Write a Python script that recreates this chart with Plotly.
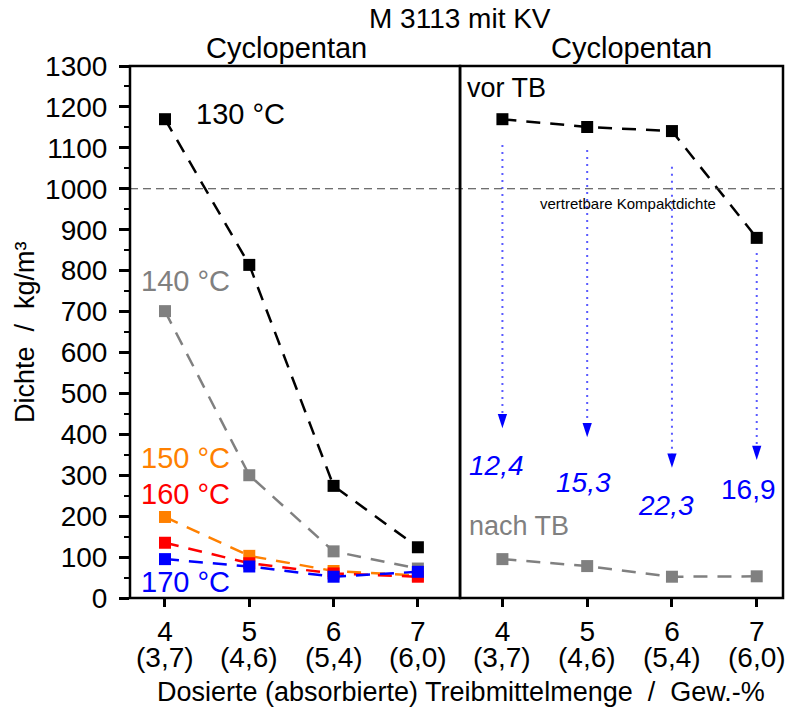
import plotly.graph_objects as go

# ---------------- data ----------------
x_vals = [4, 5, 6, 7]
x_ticktext = ["4", "5", "6", "7"]
x_subtext = ["(3,7)", "(4,6)", "(5,4)", "(6,0)"]

temps = ["130 °C", "140 °C", "150 °C", "160 °C", "170 °C"]
dens_130 = [1170, 814, 274, 124]
dens_140 = [701, 300, 114, 72]
dens_150 = [198, 103, 66, 55]
dens_160 = [135, 85, 60, 52]
dens_170 = [95, 77, 52, 64]

vor_tb = [1170, 1151, 1141, 880]
nach_tb = [95, 78, 52, 53]

arrow_start = [1107, 1095, 1054, 843]
arrow_end = [415, 393, 318, 337]
expansion_labels = ["12,4", "15,3", "22,3", "16,9"]

COMPACT_DENSITY = 1000
y_ticks = list(range(0, 1301, 100))

# ---------------- styles ----------------
colors = ["#000000", "#808080", "#ff8000", "#ff0000", "#0000ff"]
FONT = "Liberation Sans, Arial, sans-serif"
D = 0.5054  # split between panels (paper coords)
DASH = "14px,10px"
PH = 532.0  # plot height px
PW = 653.0  # plot width px
NB = "\u00a0"

fig = go.Figure()

left_series = [dens_130, dens_140, dens_150, dens_160, dens_170]
for name, ys, c in zip(temps, left_series, colors):
    fig.add_trace(go.Scatter(
        x=x_vals, y=ys, mode="lines+markers", name=name,
        line=dict(color=c, width=2.5, dash=DASH),
        marker=dict(symbol="square", size=12, color=c),
        xaxis="x", yaxis="y", showlegend=False))

# blue dotted arrows (right panel)
for xv, s, e in zip(x_vals, arrow_start, arrow_end):
    fig.add_trace(go.Scatter(
        x=[xv, xv], y=[s, e + 30], mode="lines",
        line=dict(color="#5a5aff", width=2, dash="2px,5px"),
        xaxis="x2", yaxis="y", showlegend=False, hoverinfo="skip"))
    fig.add_trace(go.Scatter(
        x=[xv], y=[e], mode="markers",
        marker=dict(symbol="arrow", angle=180, size=15, color="#0000ff",
                    line=dict(width=0)),
        xaxis="x2", yaxis="y", showlegend=False, hoverinfo="skip"))

fig.add_trace(go.Scatter(
    x=x_vals, y=vor_tb, mode="lines+markers", name="vor TB",
    line=dict(color="#000000", width=2.5, dash=DASH),
    marker=dict(symbol="square", size=12, color="#000000"),
    xaxis="x2", yaxis="y", showlegend=False))
fig.add_trace(go.Scatter(
    x=x_vals, y=nach_tb, mode="lines+markers", name="nach TB",
    line=dict(color="#808080", width=2.5, dash=DASH),
    marker=dict(symbol="square", size=12, color="#808080"),
    xaxis="x2", yaxis="y", showlegend=False))

annotations = []


def ann(**kw):
    kw.setdefault("showarrow", False)
    kw.setdefault("xanchor", "center")
    kw.setdefault("yanchor", "middle")
    annotations.append(kw)


# temperature labels
label_pos = [(4.89, 1183), (4.24, 775), (4.24, 342), (4.24, 254), (4.24, 39)]
for t, (lx, ly), c in zip(temps, label_pos, colors):
    ann(x=lx, y=ly, xref="x", yref="y", text=t, font=dict(size=29, color=c, family=FONT))

ann(x=4.05, y=1246, xref="x2", yref="y", text="vor TB",
    font=dict(size=27, color="#000000", family=FONT))
ann(x=4.19, y=176, xref="x2", yref="y", text="nach TB",
    font=dict(size=27, color="#808080", family=FONT))
ann(x=5.476, y=965, xref="x2", yref="y", text="vertretbare Kompaktdichte",
    font=dict(size=15, color="#000000", family=FONT))

lab_pos = [(3.935, 323), (4.96, 283), (5.935, 225), (6.9, 266)]
for i, (txt, (lx, ly)) in enumerate(zip(expansion_labels, lab_pos)):
    t = txt if i == 3 else "<i>" + txt + "</i>"
    ann(x=lx, y=ly, xref="x2", yref="y", text=t, font=dict(size=28, color="#0000ff", family=FONT))

# second line of x tick labels
for xr in ("x", "x2"):
    for xv, st in zip(x_vals, x_subtext):
        ann(x=xv, y=-(657 - 598) / PH, xref=xr, yref="paper", text=st,
            font=dict(size=28, color="#000000", family=FONT))

# titles
ann(x=(460 - 130) / PW, y=(598 - 18) / PH, xref="paper", yref="paper",
    text="M 3113 mit KV", font=dict(size=28, color="#000000", family=FONT))
ann(x=(286 - 130) / PW, y=(598 - 48) / PH, xref="paper", yref="paper",
    text="Cyclopentan", font=dict(size=29, color="#000000", family=FONT))
ann(x=(631 - 130) / PW, y=(598 - 48) / PH, xref="paper", yref="paper",
    text="Cyclopentan", font=dict(size=29, color="#000000", family=FONT))
ann(x=(461 - 130) / PW, y=-(692 - 598) / PH, xref="paper", yref="paper",
    text="Dosierte (absorbierte) Treibmittelmenge" + NB + NB + "/" + NB + NB + "Gew.-%",
    font=dict(size=27, color="#000000", family=FONT))
ann(x=-(130 - 25) / PW, y=(598 - 332) / PH, xref="paper", yref="paper",
    text="Dichte" + NB + NB + "/" + NB + NB + "kg/m³", textangle=-90,
    font=dict(size=27, color="#000000", family=FONT))

shapes = [
    dict(type="line", xref="paper", yref="y", x0=0, x1=1, y0=COMPACT_DENSITY, y1=COMPACT_DENSITY,
         line=dict(color="#404040", width=1.2, dash="8px,5px")),
    dict(type="rect", xref="paper", yref="paper", x0=0, x1=D, y0=0, y1=1,
         line=dict(color="#000000", width=2.5)),
    dict(type="rect", xref="paper", yref="paper", x0=D, x1=1, y0=0, y1=1,
         line=dict(color="#000000", width=2.5)),
]

tick_common = dict(ticks="outside", ticklen=8, tickwidth=2.5, tickcolor="#000000",
                   showgrid=False, zeroline=False, showline=False,
                   tickfont=dict(size=28, family=FONT, color="#000000"), anchor="y")

fig.update_layout(
    width=793, height=709,
    margin=dict(l=130, r=10, t=66, b=111),
    paper_bgcolor="white", plot_bgcolor="white",
    font=dict(family=FONT, color="#000000"),
    showlegend=False,
    xaxis=dict(domain=[0, D], range=[3.585, 7.5], tickvals=x_vals, ticktext=x_ticktext,
               **tick_common),
    xaxis2=dict(domain=[D, 1], range=[3.5, 7.31], tickvals=x_vals, ticktext=x_ticktext,
                **tick_common),
    yaxis=dict(range=[0, 1300], tickvals=y_ticks, ticks="outside", ticklen=10, tickwidth=2.5,
               tickcolor="#000000", showgrid=False, zeroline=False, showline=False,
               ticklabelstandoff=6,
               tickfont=dict(size=28, family=FONT, color="#000000"),
               minor=dict(ticks="outside", ticklen=5, tickwidth=2, dtick=50, tick0=0,
                          tickcolor="#000000", showgrid=False)),
    annotations=annotations,
    shapes=shapes,
)

fig.write_html("out.html", config={"displayModeBar": False},
               post_script="document.body.style.margin='0px';document.body.style.overflow='hidden';")
